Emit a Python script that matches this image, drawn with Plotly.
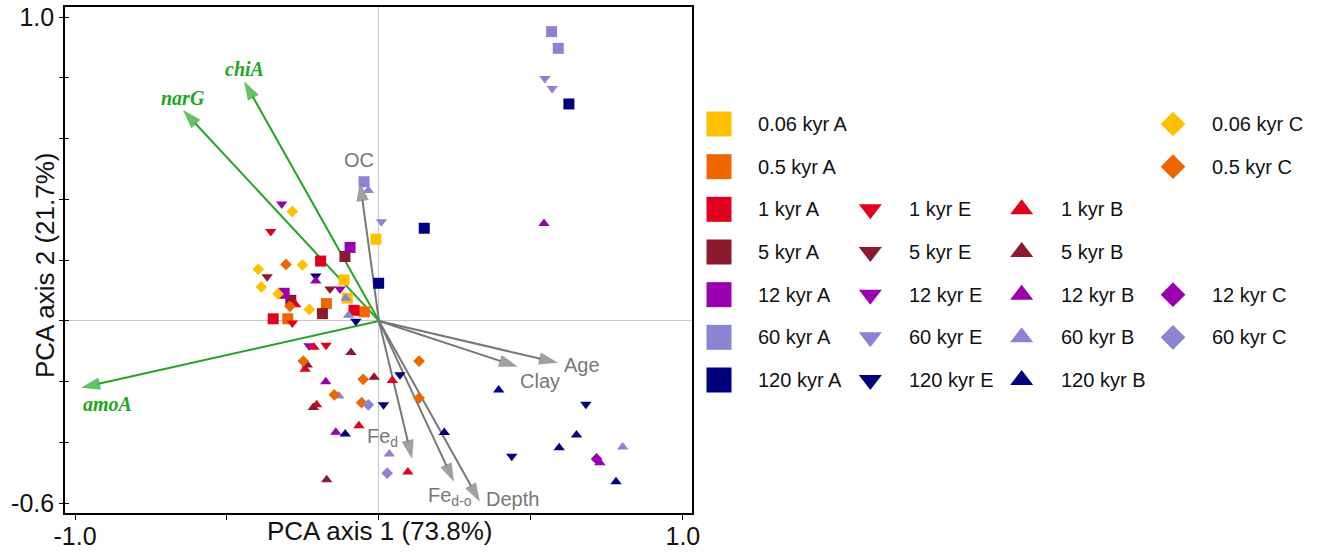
import plotly.graph_objects as go

# ---------------- data ----------------
ages = ["0.06", "0.5", "1", "5", "12", "60", "120"]
age_colors = ["#FFC000", "#EE6600", "#E2001F", "#8B1A2F", "#9A00AD", "#8B84D2", "#00007F"]
horizons = ["A", "E", "B", "C"]
horizon_symbols = ["square", "triangle-down", "triangle-up", "diamond"]

# Horizon A samples
A_age = ["0.06", "0.06", "0.06", "0.5", "0.5", "0.5", "1", "1", "1", "5", "5", "5",
         "12", "12", "60", "60", "60", "120", "120", "120"]
A_pc1 = [-0.010, -0.115, -0.104, -0.173, -0.048, -0.300, -0.192, -0.082, -0.348,
         -0.112, -0.290, -0.186, -0.095, -0.312, -0.049, 0.568, 0.590, -0.001, 0.149, 0.625]
A_pc2 = [0.269, 0.135, 0.075, 0.057, 0.030, 0.007, 0.197, 0.035, 0.007,
         0.212, 0.068, 0.024, 0.242, 0.091, 0.458, 0.952, 0.897, 0.124, 0.305, 0.714]

# Horizon E samples
E_age = ["1", "1", "1", "5", "5", "12", "12", "12", "60", "60", "60",
         "120", "120", "120", "120", "120", "120"]
E_pc1 = [-0.356, -0.285, -0.174, -0.368, -0.161, -0.320, -0.128, -0.230, 0.008, 0.546, 0.570,
         -0.208, -0.076, 0.069, 0.015, 0.437, 0.681]
E_pc2 = [0.294, -0.007, -0.080, 0.145, 0.105, 0.385, 0.105, -0.082, 0.326, 0.798, 0.765,
         0.148, -0.001, -0.177, -0.276, -0.445, -0.274]

# Horizon B samples
B_age = ["1"] * 7 + ["5"] * 5 + ["12"] * 5 + ["60"] * 6 + ["120"] * 6
B_pc1 = [-0.274, -0.214, -0.243, 0.044, -0.205, -0.066, 0.095,
         -0.092, -0.236, -0.016, -0.216, -0.172,
         -0.208, -0.175, -0.142, 0.543, 0.727,
         -0.035, -0.109, -0.100, -0.132, 0.034, 0.802,
         -0.111, 0.215, 0.394, 0.650, 0.593, 0.780]
B_pc2 = [0.053, -0.087, -0.159, -0.196, -0.276, -0.345, -0.497,
         -0.104, -0.145, -0.185, -0.285, -0.523,
         0.131, -0.200, -0.366, 0.321, -0.467,
         0.429, 0.075, 0.019, -0.247, -0.438, -0.415,
         -0.372, -0.367, -0.227, -0.375, -0.417, -0.529]

# Horizon C samples
C_age = ["0.06"] * 6 + ["0.5"] * 8 + ["12"] + ["60"] * 2
C_pc1 = [-0.285, -0.252, -0.397, -0.387, -0.332, -0.229,
         -0.306, -0.293, -0.249, -0.052, -0.147, -0.057, 0.132, 0.132,
         0.716, -0.035, 0.027]
C_pc2 = [0.360, 0.184, 0.170, 0.112, 0.089, 0.038,
         0.186, 0.048, -0.132, -0.192, -0.243, -0.269, -0.132, -0.254,
         -0.454, -0.276, -0.501]

# Biplot loadings
gene_names = ["amoA", "narG", "chiA"]
gene_pc1 = [-0.980, -0.645, -0.444]
gene_pc2 = [-0.220, 0.694, 0.789]

env_names = ["OC", "Age", "Clay", "Fe<sub>d</sub>", "Fe<sub>d-o</sub>", "Depth"]
env_pc1 = [-0.0625, 0.589, 0.457, 0.109, 0.247, 0.332]
env_pc2 = [0.457, -0.138, -0.151, -0.454, -0.530, -0.595]

x_label_vals = [-1.0, 1.0]
x_label_text = ["-1.0", "1.0"]
x_tick_step = 0.5
y_label_vals = [-0.6, 1.0]
y_label_text = ["-0.6", "1.0"]
y_tick_step = 0.2

# ---------------- style ----------------
FONT = "Liberation Sans, Arial, sans-serif"
SERIF = "Liberation Serif, Times New Roman, serif"
GREEN = "#22A622"
GREY = "#777777"
W, H = 1317, 554
sym_size = {"square": 11, "triangle-down": 10, "triangle-up": 10, "diamond": 9}
leg_size = {"square": 25, "triangle-down": 20, "triangle-up": 20, "diamond": 19}

X_DOM = [65 / W, 692 / W]
Y_DOM = [(H - 513) / H, (H - 7) / H]

fig = go.Figure()

# ---------------- arrows (drawn first, under the samples) ----------------
def add_arrow(tx, ty, color):
    fig.add_trace(go.Scatter(
        x=[0, tx], y=[0, ty], mode="lines+markers",
        line=dict(color=color, width=2),
        marker=dict(symbol=["circle", "arrow"], size=[0, 20], color=color,
                    angleref="previous", line=dict(width=0)),
        showlegend=False, hoverinfo="skip", cliponaxis=False))

for gx, gy in zip(gene_pc1, gene_pc2):
    add_arrow(gx, gy, GREEN)
for ex, ey in zip(env_pc1, env_pc2):
    add_arrow(ex, ey, GREY)

# ---------------- samples ----------------
horizon_data = {"A": (A_age, A_pc1, A_pc2), "E": (E_age, E_pc1, E_pc2),
                "B": (B_age, B_pc1, B_pc2), "C": (C_age, C_pc1, C_pc2)}

present = []
for h, sym in zip(horizons, horizon_symbols):
    a_list, xs, ys = horizon_data[h]
    for age, col in zip(ages, age_colors):
        gx = [x for a, x in zip(a_list, xs) if a == age]
        gy = [y for a, y in zip(a_list, ys) if a == age]
        if not gx:
            continue
        present.append((age, h, col, sym))
        fig.add_trace(go.Scatter(
            x=gx, y=gy, mode="markers", name=f"{age} kyr {h}",
            marker=dict(symbol=sym, size=sym_size[sym], color=col, line=dict(width=0)),
            showlegend=False, hoverinfo="skip", cliponaxis=False))

# invisible trace for overlay axis (inside ticks on the y axis)
fig.add_trace(go.Scatter(x=[None], y=[None], xaxis="x", yaxis="y3", showlegend=False,
                         hoverinfo="skip"))

# ---------------- custom legend grid ----------------
for age, h, col, sym in present:
    cx = horizons.index(h)
    ry = ages.index(age)
    fig.add_trace(go.Scatter(
        x=[cx], y=[ry], xaxis="x2", yaxis="y2", mode="markers",
        marker=dict(symbol=sym, size=leg_size[sym], color=col, line=dict(width=0)),
        showlegend=False, hoverinfo="skip", cliponaxis=False))
    fig.add_annotation(x=cx, y=ry, xref="x2", yref="y2", text=f"{age} kyr {h}",
                       showarrow=False, xanchor="left", yanchor="middle", xshift=37,
                       font=dict(family=FONT, size=20, color="#111111"))

# ---------------- arrow labels ----------------
gene_label_shift = [(26, -16), (0, 12), (0, 12)]
for name, gx, gy, (sx, sy) in zip(gene_names, gene_pc1, gene_pc2, gene_label_shift):
    fig.add_annotation(x=gx, y=gy, xref="x", yref="y", text=f"<b><i>{name}</i></b>",
                       showarrow=False, xshift=sx, yshift=sy,
                       xanchor="center", yanchor="middle",
                       font=dict(family=SERIF, size=20, color=GREEN))

env_label_shift = [(-1, 22), (24, -2), (22, -14), (-30, 21), (-4, -14), (33, 3)]
for name, ex, ey, (sx, sy) in zip(env_names, env_pc1, env_pc2, env_label_shift):
    fig.add_annotation(x=ex, y=ey, xref="x", yref="y", text=name, showarrow=False,
                       xshift=sx, yshift=sy, xanchor="center", yanchor="middle",
                       font=dict(family=FONT, size=20, color=GREY))

# ---------------- axis titles ----------------
fig.add_annotation(x=(X_DOM[0] + X_DOM[1]) / 2 + 1 / W, y=(H - 531) / H, xref="paper", yref="paper",
                   text="PCA axis 1 (73.8%)", showarrow=False, xanchor="center", yanchor="middle",
                   font=dict(family=FONT, size=26, color="#111111"))
fig.add_annotation(x=45 / W, y=(H - 266) / H, xref="paper", yref="paper",
                   text="PCA axis 2 (21.7%)", showarrow=False, textangle=-90,
                   xanchor="center", yanchor="middle",
                   font=dict(family=FONT, size=26, color="#111111"))

x_range = [-1.033, 1.030]
y_range = [-0.632, 1.033]

fig.update_layout(
    width=W, height=H, autosize=False,
    margin=dict(l=0, r=0, t=0, b=0, pad=0),
    paper_bgcolor="white", plot_bgcolor="white",
    font=dict(family=FONT, color="#111111"),
    xaxis=dict(domain=X_DOM, range=x_range, tickmode="array",
               tickvals=x_label_vals, ticktext=x_label_text,
               ticks="outside", ticklen=5, tickwidth=1.2, tickcolor="black",
               ticklabelstandoff=-5,
               minor=dict(tick0=0, dtick=x_tick_step, ticks="outside", ticklen=5,
                          tickwidth=1.2, tickcolor="black", showgrid=False),
               showline=True, mirror=True, linecolor="black", linewidth=1.6,
               showgrid=False, zeroline=True, zerolinecolor="#C8C8C8", zerolinewidth=1,
               automargin=False,
               tickfont=dict(family=FONT, size=25, color="#111111"), anchor="y"),
    yaxis=dict(domain=Y_DOM, range=y_range, tickmode="array",
               tickvals=y_label_vals, ticktext=y_label_text,
               ticks="outside", ticklen=4, tickwidth=1.2, tickcolor="black",
               minor=dict(tick0=0, dtick=y_tick_step, ticks="outside", ticklen=4,
                          tickwidth=1.2, tickcolor="black", showgrid=False),
               showline=True, mirror=True, linecolor="black", linewidth=1.6,
               showgrid=False, zeroline=True, zerolinecolor="#C8C8C8", zerolinewidth=1,
               automargin=False,
               tickfont=dict(family=FONT, size=25, color="#111111"), anchor="x"),
    yaxis3=dict(overlaying="y", range=y_range, tick0=0, dtick=y_tick_step, ticks="inside",
                ticklen=4, tickwidth=1.2, tickcolor="black", showticklabels=False,
                showgrid=False, zeroline=False, showline=False, anchor="x", automargin=False),
    xaxis2=dict(domain=[719 / W, 1173 / W], range=[0, 3], visible=False, anchor="y2",
                automargin=False),
    yaxis2=dict(domain=[(H - 380) / H, (H - 124) / H], range=[6, 0], visible=False,
                anchor="x2", automargin=False),
)

fig.write_html("out.html")
